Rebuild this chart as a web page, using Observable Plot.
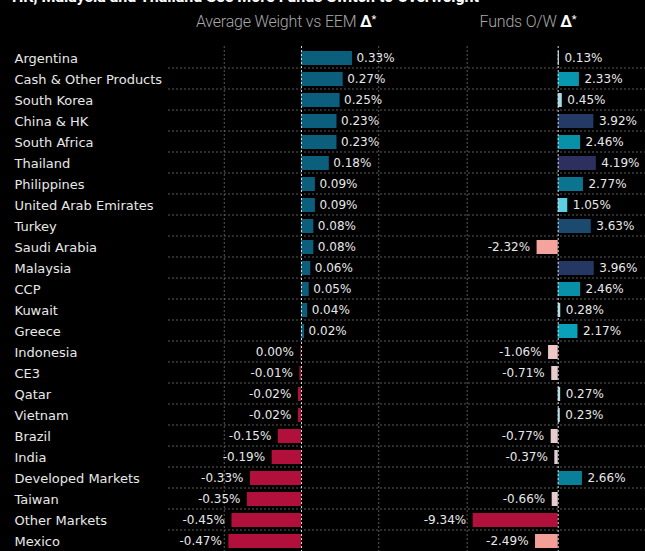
<!DOCTYPE html>
<html>
<head>
<meta charset="utf-8">
<script src="https://cdn.jsdelivr.net/npm/d3@7"></script>
<script src="https://cdn.jsdelivr.net/npm/@observablehq/plot@0.6"></script>
<style>
  html, body { margin: 0; padding: 0; background: #000; }
  #chart { position: relative; width: 645px; height: 551px; overflow: hidden; background: #000; }
  #chart svg { position: absolute; top: 0; }
  .title { position: absolute; left: 12px; top: -11.5px; font: 700 16px Roboto, sans-serif; color: #fff; white-space: nowrap; line-height: 16px; }
  .hdr { position: absolute; top: 11.5px; font: 300 16px Roboto, sans-serif; color: #a8a8a8; white-space: nowrap; line-height: 16px; transform: translateX(-50%); letter-spacing: -0.2px; }
  .hdr b { color: #fff; font-weight: 700; }
  .hdr sup { color: #fff; font-size: 11px; font-weight: 400; vertical-align: 4px; }
</style>
</head>
<body>
<div id="chart">
  <div class="title">HK, Malaysia and Thailand See More Funds Switch to Overweight</div>
  <div class="hdr" style="left:286px">Average Weight vs EEM <b>Δ</b><sup>*</sup></div>
  <div class="hdr" style="left:528px">Funds O/W <b>Δ</b><sup>*</sup></div>
</div>
<script>
const names = ["Argentina","Cash & Other Products","South Korea","China & HK","South Africa","Thailand","Philippines","United Arab Emirates","Turkey","Saudi Arabia","Malaysia","CCP","Kuwait","Greece","Indonesia","CE3","Qatar","Vietnam","Brazil","India","Developed Markets","Taiwan","Other Markets","Mexico"];
const avgWeight = [0.33,0.27,0.25,0.23,0.23,0.18,0.09,0.09,0.08,0.08,0.06,0.05,0.04,0.02,-0.004,-0.01,-0.02,-0.02,-0.15,-0.19,-0.33,-0.35,-0.45,-0.47];
const fundsOW = [0.13,2.33,0.45,3.92,2.46,4.19,2.77,1.05,3.63,-2.32,3.96,2.46,0.28,2.17,-1.06,-0.71,0.27,0.23,-0.77,-0.37,2.66,-0.66,-9.34,-2.49];
const leftTicks = [-0.5, 0.5];
const rightTicks = [-10, 10];

const leftData = names.map((name, i) => ({name, value: avgWeight[i]}));
const rightData = names.map((name, i) => ({name, value: fundsOW[i]}));

const fmt = v => { let s = v.toFixed(2); if (s === "-0.00") s = "0.00"; return s + "%"; };

const yScale = {domain: names, range: [47.5, 552.5], paddingInner: 0.33, paddingOuter: 0, axis: null};
const grid = {stroke: "#5a5a5a", strokeDasharray: "2,2", strokeWidth: 1};
const zeroLine = {stroke: "#d8d8d8", strokeDasharray: "2,2", strokeWidth: 1};
const valText = {fill: "#e8e8e8", fontSize: 12, fontFamily: "DejaVu Sans"};

const left = Plot.plot({
  width: 440, height: 551,
  marginLeft: 168, marginRight: 0, marginTop: 46, marginBottom: 0,
  style: {background: "transparent", overflow: "visible"},
  x: {domain: [-0.861, 0.9], range: [168, 440], axis: null},
  y: yScale,
  marks: [
    Plot.ruleY(names.slice(0, -1), {y: d => d, dy: 9.5, ...grid}),
    Plot.ruleX(leftTicks, {...grid}),
    Plot.barX(leftData, {y: "name", x: "value", fill: d => d.value >= 0 ? "#0b5f7c" : "#b0103b"}),
    Plot.ruleX([0], {...zeroLine}),
    Plot.text(names, {y: d => d, frameAnchor: "left", textAnchor: "start", dx: -154, fill: "#e8e8e8", fontSize: 13, fontFamily: "DejaVu Sans"}),
    Plot.text(leftData.filter(d => d.value >= 0), {y: "name", x: "value", text: d => fmt(d.value), textAnchor: "start", dx: 4, ...valText}),
    Plot.text(leftData.filter(d => d.value < 0), {y: "name", x: "value", text: d => fmt(d.value), textAnchor: "end", dx: -7, ...valText})
  ]
});

const right = Plot.plot({
  width: 205, height: 551,
  marginLeft: 0, marginRight: 0, marginTop: 46, marginBottom: 0,
  style: {background: "transparent", overflow: "visible"},
  x: {domain: [-12.93, 9.59], range: [0, 205], axis: null},
  y: yScale,
  color: {
    type: "linear", interpolate: "rgb",
    domain: [-9.34, -2.4, -1.06, -0.37, 0, 0.45, 1.05, 2.17, 2.46, 2.77, 3.63, 3.92, 4.19],
    range: ["#b0103b", "#f4a19a", "#eec6c6", "#e2d2d6", "#c6e2ea", "#a6dbe6", "#5ccfe0", "#09a0b8", "#0790a8", "#0a7590", "#1b4a6e", "#223a64", "#2d2f5e"]
  },
  marks: [
    Plot.ruleY(names.slice(0, -1), {y: d => d, dy: 9.5, ...grid}),
    Plot.ruleX(rightTicks, {...grid}),
    Plot.barX(rightData, {y: "name", x: "value", fill: "value"}),
    Plot.ruleX([0], {...zeroLine}),
    Plot.text(rightData.filter(d => d.value >= 0), {y: "name", x: "value", text: d => fmt(d.value), textAnchor: "start", dx: 5, ...valText}),
    Plot.text(rightData.filter(d => d.value < 0), {y: "name", x: "value", text: d => fmt(d.value), textAnchor: "end", dx: -7, ...valText})
  ]
});

left.style.left = "0px";
right.style.left = "440px";
const chart = document.getElementById("chart");
chart.appendChild(left);
chart.appendChild(right);
</script>
</body>
</html>
